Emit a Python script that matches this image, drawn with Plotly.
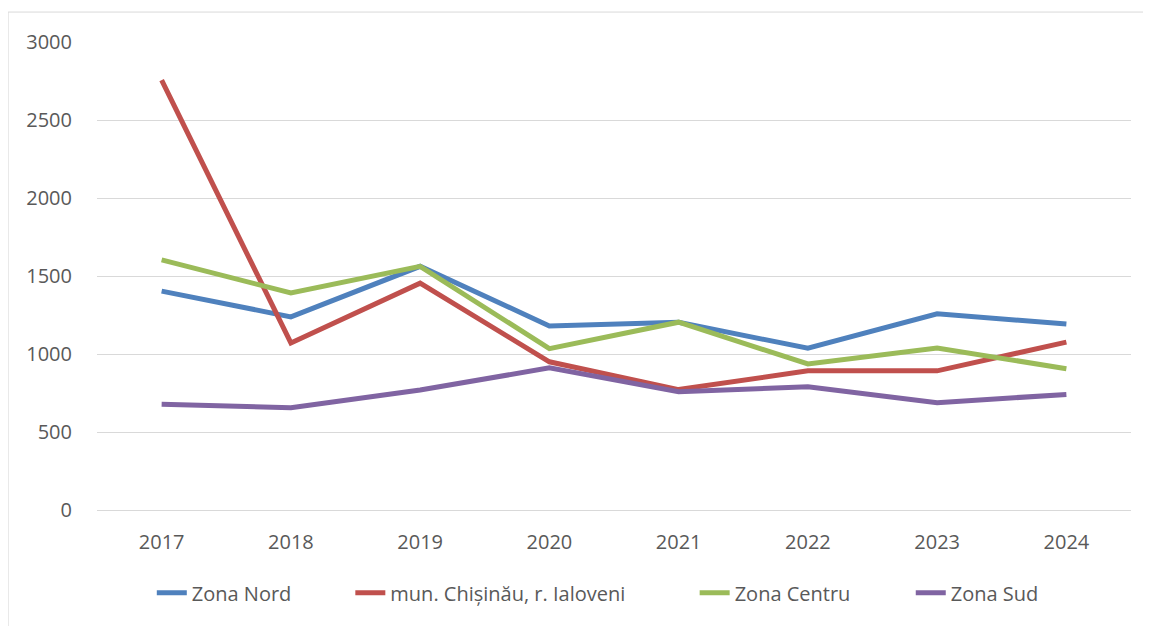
import plotly.graph_objects as go

years = ["2017", "2018", "2019", "2020", "2021", "2022", "2023", "2024"]
zona_nord = [1403, 1238, 1562, 1180, 1203, 1037, 1258, 1192]
chisinau = [2755, 1071, 1454, 950, 772, 892, 892, 1076]
zona_centru = [1603, 1392, 1562, 1034, 1204, 936, 1038, 906]
zona_sud = [678, 655, 769, 911, 758, 790, 688, 741]

series = [
    ("Zona Nord", zona_nord, "#4F81BD"),
    ("mun. Chișinău, r. Ialoveni", chisinau, "#C0504D"),
    ("Zona Centru", zona_centru, "#9BBB59"),
    ("Zona Sud", zona_sud, "#8064A2"),
]
# legend placement (paper x of each legend entry)
legend_x = [0.053, 0.245, 0.578, 0.787]
legend_ids = ["legend", "legend2", "legend3", "legend4"]

font_family = "'Open Sans', Lato, sans-serif"
fig = go.Figure()
for (name, vals, col), lid in zip(series, legend_ids):
    fig.add_trace(go.Scatter(x=years, y=vals, name=name, mode="lines",
                             line=dict(color=col, width=5, shape="linear"),
                             legend=lid, hoverinfo="x+y+name"))

legend_common = dict(orientation="h", xanchor="left", yanchor="middle", y=-0.177,
                     font=dict(size=20, color="#595959"), bgcolor="rgba(0,0,0,0)")
layout_legends = {}
for lid, lx in zip(legend_ids, legend_x):
    layout_legends[lid] = dict(legend_common, x=lx)

# page has an 8px body margin; offset margins accordingly
fig.update_layout(
    width=1151, height=626,
    margin=dict(l=89, r=28, t=34, b=124),
    paper_bgcolor="white", plot_bgcolor="white",
    font=dict(family=font_family, size=20, color="#595959"),
    showlegend=True,
    xaxis=dict(type="category", range=[-0.5, 7.5], showgrid=False,
               showline=True, linecolor="#D9D9D9", linewidth=1,
               ticks="", ticklabelstandoff=14, zeroline=False, automargin=False),
    yaxis=dict(range=[0, 3000], tickvals=[0, 500, 1000, 1500, 2000, 2500, 3000],
               showgrid=True, gridcolor="#D9D9D9", gridwidth=1,
               showline=False, zeroline=False, ticks="", ticklabelstandoff=24,
               automargin=False),
    shapes=[dict(type="rect", xref="paper", yref="paper",
                 x0=-0.086, x1=1.06, y0=-0.3, y1=1.064,
                 line=dict(color="#D9D9D9", width=1), fillcolor="rgba(0,0,0,0)",
                 layer="below")],
    **layout_legends,
)

fig.write_html("out.html")
